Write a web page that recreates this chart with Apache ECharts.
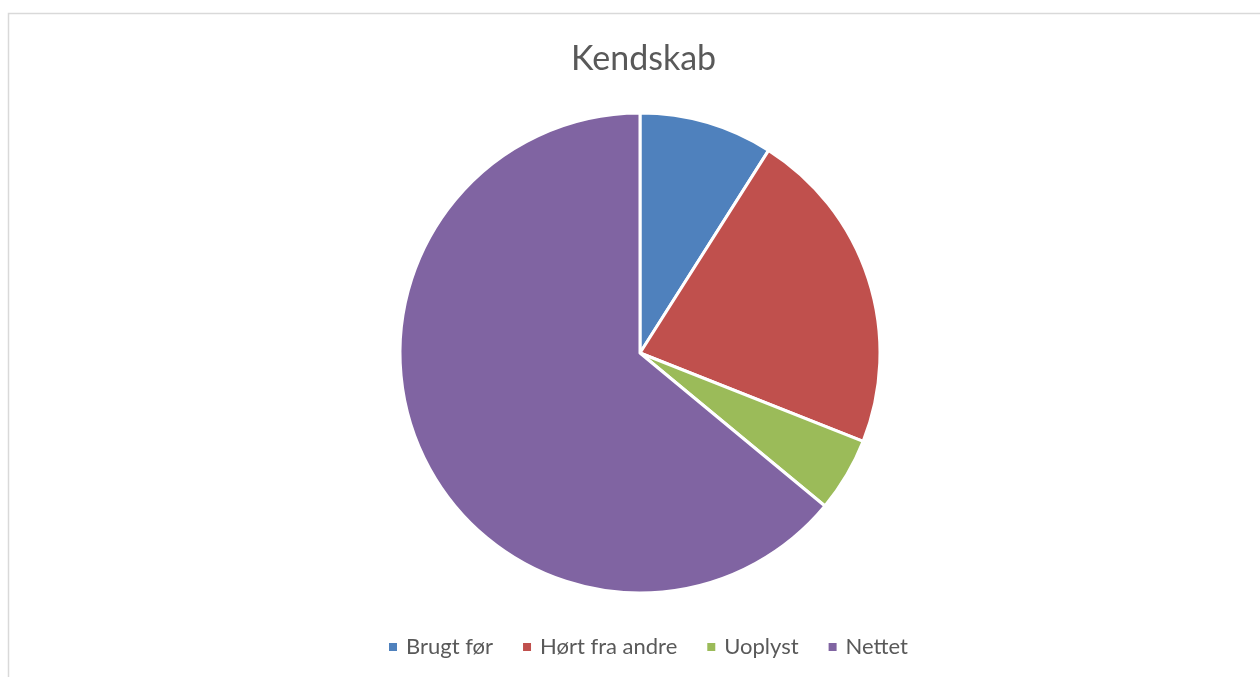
<!DOCTYPE html>
<html><head><meta charset="utf-8">
<script src="https://cdn.jsdelivr.net/npm/echarts@6/dist/echarts.min.js"></script>
<style>html,body{margin:0;padding:0;background:#fff}#c{width:1260px;height:677px}</style>
</head><body><div id="c"></div>
<script>
const categories = ["Brugt før", "Hørt fra andre", "Uoplyst", "Nettet"];
const values = [9, 22, 5, 64];
const colors = ["#4F81BD", "#C0504D", "#9BBB59", "#8064A2"];
const titleText = "Kendskab";

const chart = echarts.init(document.getElementById('c'));
chart.setOption({
  animation: false,
  color: colors,
  graphic: [{type:'rect', shape:{x:8.5,y:13.5,width:1300,height:700}, style:{fill:'none', stroke:'#d9d9d9', lineWidth:1.5}}],
  title: {text: titleText, left: 566, top: 37, textStyle:{fontFamily:'Lato', fontSize:34, fontWeight:'normal', color:'#595959'}},
  legend: {data: categories, bottom: 14, left: 382, icon: 'rect', itemWidth: 10, itemHeight: 10, itemGap: 28,
    textStyle:{fontFamily:'Lato', fontSize:22, color:'#595959', padding:[0,0,0,3]}},
  series: [{type:'pie', center:[640,353], radius:240, startAngle:90, clockwise:true,
    label:{show:false}, labelLine:{show:false},
    itemStyle:{borderColor:'#fff', borderWidth:3},
    data: categories.map((c,i)=>({name:c, value:values[i]}))}]
});
</script></body></html>
